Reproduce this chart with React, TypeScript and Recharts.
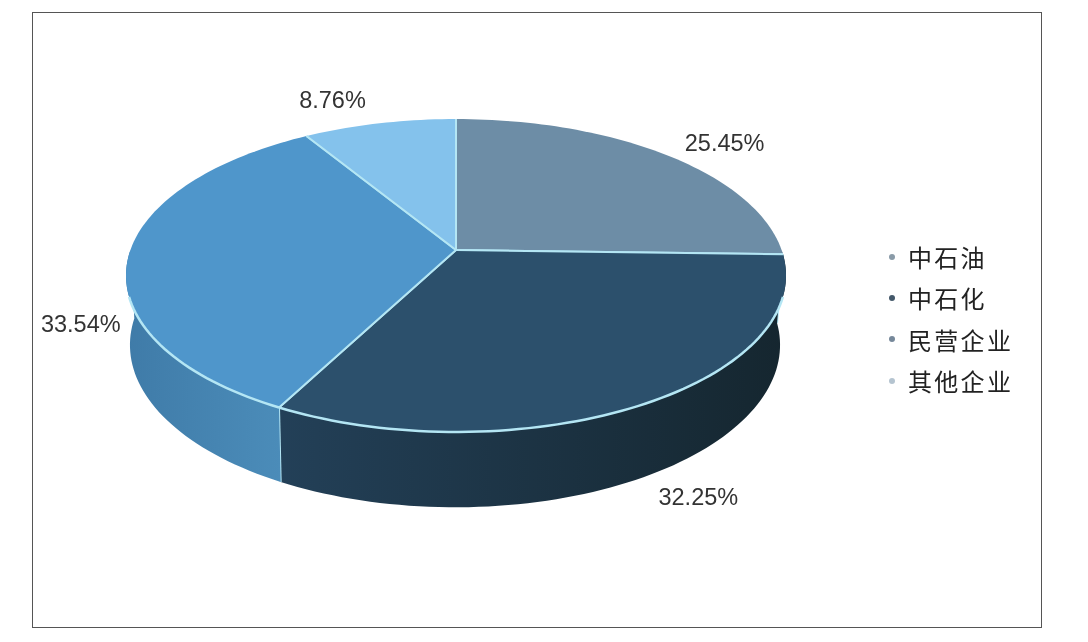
import React from "react";
import { PieChart, Pie, Legend } from "recharts";

const names = ["中石油", "中石化", "民营企业", "其他企业"];
const shares = [25.45, 32.25, 33.54, 8.76];
const topColors = ["#6d8da6", "#2c506c", "#4f96cb", "#84c2ec"];
const wallLeft = ["#4a6a84", "#234058", "#3f7ba8", "#5f9cc8"];
const wallRight = ["#4a6a84", "#15262f", "#4b8cb9", "#5f9cc8"];
const legendDots = ["#8a9ba8", "#44586a", "#76889a", "#b5c4d0"];

const tableData = names.map((name, i) => ({ name, value: shares[i], fill: topColors[i] }));

const W = 1088;
const H = 642;
const CX = 456;
const CY = 250;
const R = 300;

// Perspective of the tilted disc: the centre of the pie falls above the centre of the ellipse.
const PERSP = 0.163;
const topPlane = { x: CX, y: CY, ax: 325.6, ay: 152.3 };
const bottomPlane = { x: CX - 1, y: 318.5, ax: 320.7, ay: 158 };
const WALL_FROM = 90;
const WALL_TO = 270;
const RIM_FROM = 107;
const RIM_TO = 253;
const EDGE = "#b4e6f4";
// Label anchor offsets from the slice's mid-point on the rim.
const labelOffsets = [
  [59, -12],
  [51, 94],
  [-48, 69],
  [-47, -23],
];

const rad = (d: number) => (d * Math.PI) / 180;
const project = (plane: typeof topPlane, cw: number, k = 1) => {
  const u = Math.sin(rad(cw)) * k;
  const v = Math.cos(rad(cw)) * k;
  const w = 1 + PERSP * v;
  return { x: plane.x + (plane.ax * u) / w, y: plane.y - (plane.ay * v) / w };
};
const sweep = (a: number, b: number) => {
  const out: number[] = [];
  const n = Math.max(1, Math.ceil(Math.abs(b - a) / 1.5));
  for (let i = 0; i <= n; i++) out.push(a + ((b - a) * i) / n);
  return out;
};
const pathOf = (pts: { x: number; y: number }[], close = false) =>
  pts.map((p, i) => `${i ? "L" : "M"}${p.x.toFixed(2)} ${p.y.toFixed(2)}`).join(" ") + (close ? " Z" : "");

const cwRange = (p: any) => {
  const a = 90 - p.startAngle;
  const b = 90 - p.endAngle;
  return [Math.min(a, b), Math.max(a, b)];
};

const WallSlice = (p: any) => {
  const i = names.indexOf(p.name ?? p.payload?.name);
  const [s, e] = cwRange(p);
  const a = Math.max(s, WALL_FROM);
  const b = Math.min(e, WALL_TO);
  if (b <= a) return <g />;
  const rim = sweep(a, b).map((t) => project(topPlane, t));
  const low = sweep(b, a).map((t) => project(bottomPlane, t));
  const id = `wall-${i}`;
  return (
    <g>
      <defs>
        <linearGradient id={id} x1="0" y1="0" x2="1" y2="0">
          <stop offset="0%" stopColor={wallLeft[i]} />
          <stop offset="100%" stopColor={wallRight[i]} />
        </linearGradient>
      </defs>
      <path d={pathOf([...rim, ...low], true)} fill={`url(#${id})`} />
      {e < WALL_TO ? (
        <path
          d={pathOf([project(topPlane, e), project(bottomPlane, e)])}
          stroke={EDGE}
          strokeWidth={2}
          fill="none"
        />
      ) : null}
    </g>
  );
};

const TopSlice = (p: any) => {
  const i = names.indexOf(p.name ?? p.payload?.name);
  const [s, e] = cwRange(p);
  const rim = sweep(s, e).map((t) => project(topPlane, t));
  const centre = { x: topPlane.x, y: topPlane.y };
  const a = Math.max(s, RIM_FROM);
  const b = Math.min(e, RIM_TO);
  return (
    <g>
      <path d={pathOf([centre, ...rim], true)} fill={topColors[i]} />
      <path d={pathOf([centre, rim[0]])} stroke={EDGE} strokeWidth={2} fill="none" />
      <path d={pathOf([centre, rim[rim.length - 1]])} stroke={EDGE} strokeWidth={2} fill="none" />
      {b > a ? (
        <path d={pathOf(sweep(a, b).map((t) => project(topPlane, t)))} stroke={EDGE} strokeWidth={2.5} fill="none" />
      ) : null}
    </g>
  );
};

const SliceLabel = (p: any) => {
  const i = p.index;
  const pos = project(topPlane, 90 - p.midAngle);
  const [dx, dy] = labelOffsets[i];
  return (
    <text
      x={pos.x + dx}
      y={pos.y + dy}
      textAnchor="middle"
      dominantBaseline="central"
      fontFamily="'Liberation Sans', Arial, sans-serif"
      fontSize={23.5}
      fill="#333"
    >
      {`${Number(p.value).toFixed(2)}%`}
    </text>
  );
};

const LegendBox = () => (
  <div>
    {names.map((n, i) => (
      <div key={n} style={{ display: "flex", alignItems: "center", height: 41.3 }}>
        <span
          style={{
            width: 6,
            height: 6,
            borderRadius: 3,
            background: legendDots[i],
            marginRight: 13,
            flex: "none",
          }}
        />
        <span
          style={{
            fontFamily: "'Noto Sans CJK SC', sans-serif",
            fontSize: 24,
            letterSpacing: 2.3,
            color: "#222",
            lineHeight: "41px",
            whiteSpace: "nowrap",
          }}
        >
          {n}
        </span>
      </div>
    ))}
  </div>
);

export default function App() {
  return (
    <div style={{ position: "absolute", left: 0, top: 0, width: W, height: H, background: "#fff", overflow: "hidden" }}>
      <div
        style={{
          position: "absolute",
          left: 32,
          top: 12,
          width: 1008,
          height: 614,
          border: "1.5px solid #555",
        }}
      />
      <div style={{ position: "absolute", left: 0, top: 0, filter: "blur(0.4px)" }}>
        <PieChart width={W} height={H} margin={{ top: 0, right: 0, bottom: 0, left: 0 }}>
          <Pie
            data={tableData}
            dataKey="value"
            nameKey="name"
            cx={CX}
            cy={CY}
            outerRadius={R}
            startAngle={90}
            endAngle={-270}
            stroke="none"
            legendType="none"
            shape={WallSlice}
            isAnimationActive={false}
          />
          <Pie
            data={tableData}
            dataKey="value"
            nameKey="name"
            cx={CX}
            cy={CY}
            outerRadius={R}
            startAngle={90}
            endAngle={-270}
            stroke="none"
            shape={TopSlice}
            label={SliceLabel}
            labelLine={false}
            isAnimationActive={false}
          />
          <Legend
            layout="vertical"
            content={LegendBox}
            wrapperStyle={{ position: "absolute", left: 889, top: 236, width: 140, bottom: "auto", right: "auto" }}
          />
        </PieChart>
      </div>
    </div>
  );
}
